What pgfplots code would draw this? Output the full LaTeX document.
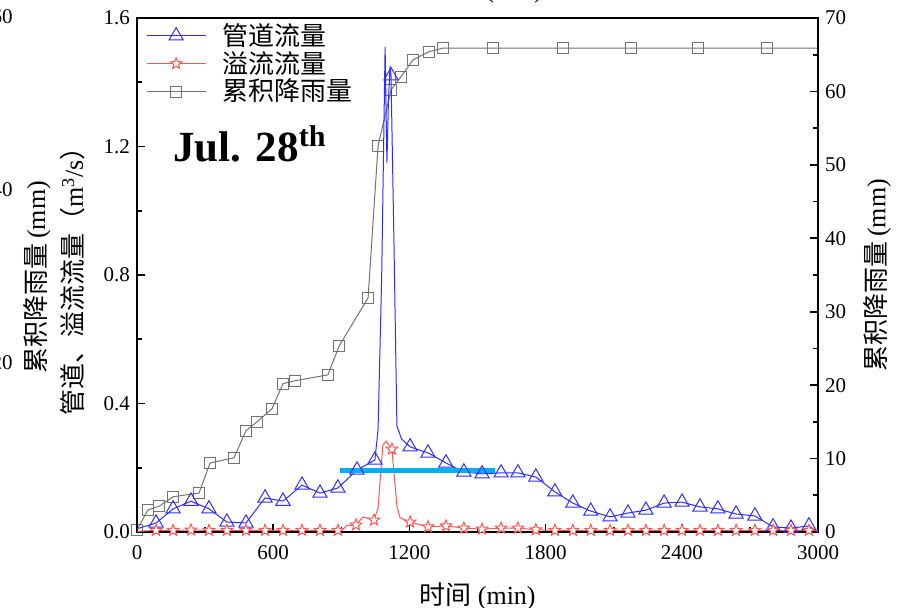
\documentclass[border=0pt]{standalone}
\usepackage{pgfplots}
\pgfplotsset{compat=1.18}
\usepackage{fontspec}
\setmainfont{Liberation Serif}
\newfontfamily\cjk{Noto Sans CJK SC}
\definecolor{cblue}{RGB}{45,45,255}
\definecolor{cred}{RGB}{255,85,85}
\definecolor{cgray}{RGB}{115,115,115}
\definecolor{ccyan}{RGB}{0,176,240}
\newcommand{\lblfont}{\fontsize{13}{15}\selectfont}
\newcommand{\tickfont}{\fontsize{10.5}{12}\selectfont}
\pgfdeclareplotmark{fivestar}{%
  \pgfpathmoveto{\pgfpointpolar{90}{\pgfplotmarksize}}%
  \pgfpathlineto{\pgfpointpolar{126}{0.42\pgfplotmarksize}}%
  \pgfpathlineto{\pgfpointpolar{162}{\pgfplotmarksize}}%
  \pgfpathlineto{\pgfpointpolar{198}{0.42\pgfplotmarksize}}%
  \pgfpathlineto{\pgfpointpolar{234}{\pgfplotmarksize}}%
  \pgfpathlineto{\pgfpointpolar{270}{0.42\pgfplotmarksize}}%
  \pgfpathlineto{\pgfpointpolar{306}{\pgfplotmarksize}}%
  \pgfpathlineto{\pgfpointpolar{342}{0.42\pgfplotmarksize}}%
  \pgfpathlineto{\pgfpointpolar{18}{\pgfplotmarksize}}%
  \pgfpathlineto{\pgfpointpolar{54}{0.42\pgfplotmarksize}}%
  \pgfpathclose
  \pgfusepathqfillstroke
}
\begin{document}
\begin{tikzpicture}
\useasboundingbox (-68.5pt,-38pt) rectangle (389pt,266pt);
\pgfplotsset{
  common/.style={scale only axis, width=340.5pt, height=257pt,
    xmin=0, xmax=3000, clip=false,
    tick align=inside, major tick length=4pt, minor tick length=2.5pt,
    every tick/.style={black, line width=0.8pt},
    axis line style={line width=1pt},
    tick label style={font=\tickfont},
    /pgf/number format/assume math mode=true,
    /pgf/number format/1000 sep={},
  },
  legend image code/.code={\draw[mark indices={2}] plot coordinates {(0pt,0pt) (14.75pt,0pt) (29.5pt,0pt)};},
}
% right axis: cumulative rainfall
\begin{axis}[common, axis y line*=right, axis x line=none,
  ymin=0, ymax=70, ytick={0,10,...,70}, minor y tick num=1,
  ylabel={{\cjk 累积降雨量}\,(mm)},
  ylabel style={at={(axis description cs:1.087,0.5)}, anchor=center, font=\lblfont},
]
\addplot[cgray, line width=0.5pt, mark=square, mark size=2.75pt, mark options={solid, fill=white},
  mark indices={1,2,3,4,5,6,7,8,9,10,11,12,13,14,15,16,17,18,19,20,21,22,23,24,25,26}]
coordinates {
(0,0.3) (48,3.0) (97,3.5) (159,4.8) (273,5.3) (322,9.4) (427,10.1) (480,13.8)
(529,15.0) (595,16.8) (643,20.2) (696,20.6) (841,21.4) (890,25.3) (1018,31.9)
(1062,52.6) (1119,60.2) (1163,62.0) (1216,64.3) (1286,65.4) (1348,65.9)
(1568,65.9) (1877,65.9) (2176,65.9) (2471,65.9) (2775,65.9) (3000,65.9)
};
\end{axis}
% left axis: flows
\begin{axis}[common, ymin=0, ymax=1.6, ytick={0,0.4,0.8,1.2,1.6}, minor y tick num=1,
  xtick={0,600,...,3000}, minor x tick num=1, xtick pos=bottom, ytick pos=left,
  yticklabel style={/pgf/number format/.cd, fixed, fixed zerofill, precision=1},
  xticklabel style={yshift=-3pt},
  xlabel={{\cjk 时间} (min)},
  xlabel style={at={(axis description cs:0.5,-0.125)}, anchor=center, font=\lblfont},
  ylabel={{\cjk 管道、溢流流量（}m\textsuperscript{3}/s{\cjk ）}},
  ylabel style={at={(axis description cs:-0.094,0.5)}, anchor=center, font=\lblfont},
  legend style={draw=none, fill=none, at={(axis description cs:0.004,1.006)}, anchor=north west,
    font=\cjk\lblfont, row sep=-2.5pt,
    /tikz/every odd column/.append style={column sep=6pt}},
  legend cell align=left,
]
\addplot[cblue, line width=0.5pt, mark=triangle, mark size=4.1pt, mark options={solid, fill=white},
  mark indices={2,3,4,5,6,7,8,9,10,11,12,13,14,22,26,27,28,29,30,31,32,33,34,35,36,37,38,39,40,41,42,43,44,45,46,47,48}]
coordinates {
(0,0.01) (84,0.028) (159,0.072) (238,0.096) (317,0.072) (396,0.031) (480,0.028)
(564,0.106) (643,0.096) (727,0.146) (806,0.121) (885,0.137) (969,0.193) (1048,0.224)
(1062,0.32) (1078,0.8) (1093,1.51) (1098,1.28) (1101,1.15) (1108,1.35) (1115,1.45)
(1119,1.42) (1132,0.9) (1145,0.33) (1165,0.29)
(1203,0.265) (1282,0.246) (1361,0.215) (1440,0.187) (1520,0.181) (1604,0.184)
(1678,0.184) (1757,0.171) (1841,0.125) (1920,0.090) (1999,0.065) (2084,0.047)
(2163,0.059) (2242,0.068) (2322,0.090) (2401,0.093) (2480,0.078) (2559,0.072)
(2639,0.056) (2722,0.050) (2802,0.016) (2881,0.012) (2960,0.019) (3000,0.0)
};
\addlegendentry{管道流量}
\addplot[cred, line width=0.5pt, mark=fivestar, mark size=3pt, mark options={solid, fill=white},
  mark indices={2,3,4,5,6,7,8,9,10,11,12,15,17,21,24,25,26,27,28,29,30,31,32,33,34,35,36,37,38,39,40,41,42,43,44,45,46}]
coordinates {
(0,0.002) (84,0.005) (159,0.005) (238,0.006) (317,0.005) (396,0.005) (480,0.005)
(564,0.005) (643,0.005) (727,0.005) (806,0.005) (885,0.005) (903,0.006) (925,0.02)
(965,0.022) (996,0.047) (1044,0.037) (1062,0.075) (1083,0.27) (1097,0.283)
(1123,0.258) (1145,0.08) (1159,0.044) (1203,0.031) (1282,0.016) (1361,0.019)
(1440,0.012) (1520,0.009) (1604,0.012) (1678,0.012) (1757,0.007) (1841,0.005)
(1920,0.005) (1999,0.005) (2084,0.005) (2163,0.005) (2242,0.005) (2322,0.005)
(2401,0.005) (2480,0.005) (2559,0.005) (2639,0.005) (2722,0.005) (2802,0.005)
(2881,0.005) (2960,0.005) (3000,0.005)
};
\addlegendentry{溢流流量}
\addlegendimage{cgray, line width=0.5pt, mark=square, mark size=2.75pt, mark options={solid, fill=white}}
\addlegendentry{累积降雨量}
\addplot[ccyan, line width=2.5pt, forget plot] coordinates {(894,0.1905) (1577,0.1905)};
\node[anchor=base west, inner sep=0, font=\bfseries\fontsize{21.5}{24}\selectfont]
  at (axis description cs:0.053,0.72) {Jul. 28\textsuperscript{th}};
\end{axis}
% fragments of the neighbouring panels
\node[anchor=east, inner sep=0, font=\tickfont] at (-62pt,257.5pt) {60};
\node[anchor=east, inner sep=0, font=\tickfont] at (-62pt,171pt) {40};
\node[anchor=east, inner sep=0, font=\tickfont] at (-62pt,84.5pt) {20};
\node[rotate=90, inner sep=0, font=\lblfont] at (-50pt,127.5pt) {{\cjk 累积降雨量}\,(mm)};
\node[anchor=south, inner sep=0, font=\lblfont] at (174pt,264.5pt) {{\cjk 时间} (min)};
\end{tikzpicture}
\end{document}
